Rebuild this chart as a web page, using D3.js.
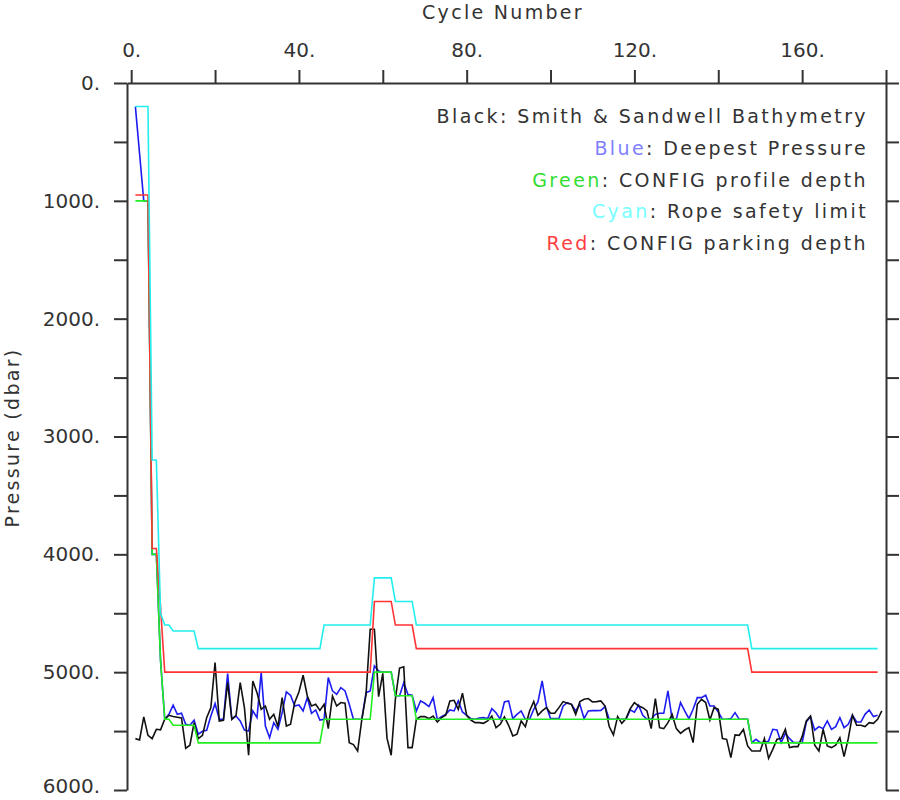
<!DOCTYPE html>
<html>
<head>
<meta charset="utf-8">
<script src="https://cdn.jsdelivr.net/npm/d3@7"></script>
<style>
  html, body { margin: 0; padding: 0; background: #ffffff; }
  svg { display: block; }
  text { font-family: "DejaVu Sans", sans-serif; fill: #333333; }
</style>
</head>
<body>
<svg id="chart" width="900" height="800"></svg>
<script>
// ---------------- DATA ----------------
// Black: Smith & Sandwell bathymetry, cycles 1..179 (dbar)
const bathymetry = [
  5564,5575,5380,5536,5564,5485,5490,5400,5366,5377,
  5383,5389,5646,5620,5428,5564,5536,5386,5300,4919,
  5414,5408,5088,5400,5366,5088,5300,5705,5075,5174,
  5315,5287,5400,5358,5462,5216,5457,5442,5258,5168,
  5026,5202,5287,5273,5324,5273,5479,5202,5287,5258,
  5264,5598,5615,5669,5400,5190,4636,4636,5208,5010,
  5560,5705,5230,4965,4955,5640,5640,5400,5377,5377,
  5394,5372,5423,5386,5366,5244,5239,5315,5179,5366,
  5406,5428,5428,5434,5414,5372,5471,5442,5380,5451,
  5541,5527,5414,5462,5329,5250,5366,5329,5301,5349,
  5349,5301,5250,5264,5273,5358,5250,5230,5224,5253,
  5250,5244,5287,5462,5533,5377,5434,5394,5310,5258,
  5287,5301,5329,5479,5224,5471,5479,5428,5358,5479,
  5519,5491,5471,5598,5273,5230,5258,5406,5301,5315,
  5564,5570,5725,5533,5536,5485,5626,5669,5669,5669,
  5564,5731,5655,5570,5564,5485,5640,5632,5632,5547,
  5414,5372,5620,5669,5485,5626,5640,5620,5556,5717,
  5564,5366,5451,5451,5462,5428,5434,5400,5329
];
// Blue: deepest pressure, cycles 1..178 (dbar)
const deepestPressure = [
  200,600,1000,1000,4000,4000,4900,5400,5358,5281,
  5358,5349,5442,5451,5408,5527,5502,5493,5372,5267,
  5400,5400,5012,5400,5372,5414,5491,5499,5329,5386,
  5004,5457,5556,5428,5485,5343,5168,5196,5287,5278,
  5329,5216,5349,5321,5406,5400,5046,5159,5188,5131,
  5159,5273,5400,5400,5400,5174,5159,4947,4990,5000,
  5000,5000,5200,5200,5090,5190,5196,5329,5244,5264,
  5292,5216,5400,5377,5358,5321,5329,5244,5338,5366,
  5394,5400,5389,5386,5394,5310,5344,5400,5253,5244,
  5394,5358,5329,5400,5400,5315,5253,5075,5287,5394,
  5394,5394,5287,5258,5273,5329,5273,5394,5329,5326,
  5326,5324,5292,5400,5400,5400,5400,5400,5320,5340,
  5281,5366,5400,5400,5358,5349,5349,5159,5400,5400,
  5258,5329,5394,5315,5216,5216,5196,5287,5287,5338,
  5400,5400,5394,5343,5400,5400,5400,5598,5570,5598,
  5598,5585,5485,5491,5598,5519,5564,5598,5598,5598,
  5423,5377,5491,5462,5479,5414,5485,5462,5386,5471,
  5442,5366,5423,5423,5358,5321,5377,5366
];
// Step series as [cycle, pressure] vertices
const profileDepth = [ // Green
  [1,1000],[4,1000],[5,4000],[6,4000],[7,4900],[8,5400],[9,5400],[10,5450],[15,5450],
  [16,5600],[45,5600],[46,5400],[57,5400],[58,5000],[62,5000],[63,5200],[67,5200],
  [68,5400],[147,5400],[148,5600],[178,5600]
];
const ropeSafety = [ // Cyan
  [1,200],[4,200],[5,3200],[6,3200],[7,4500],[8,4600],[9,4600],[10,4650],[15,4650],
  [16,4800],[45,4800],[46,4600],[57,4600],[58,4200],[62,4200],[63,4400],[67,4400],
  [68,4600],[147,4600],[148,4800],[178,4800]
];
const parkingDepth = [ // Red
  [1,950],[4,950],[5,3950],[6,3950],[7,4450],[8,5000],[57,5000],[58,4400],[62,4400],
  [63,4600],[67,4600],[68,4800],[147,4800],[148,5000],[178,5000]
];

const xTickValues = [0,20,40,60,80,100,120,140,160,180];
const xTickLabels = ["0.","","40.","","80.","","120.","","160.",""];
const yTickValues = [0,500,1000,1500,2000,2500,3000,3500,4000,4500,5000,5500,6000];
const yTickLabels = ["0.","","1000.","","2000.","","3000.","","4000.","","5000.","","6000."];

const legendItems = [
  {word: "Black", rest: ": Smith & Sandwell Bathymetry", color: "#333333"},
  {word: "Blue", rest: ": Deepest Pressure", color: "#8080ff"},
  {word: "Green", rest: ": CONFIG profile depth", color: "#33dd33"},
  {word: "Cyan", rest: ": Rope safety limit", color: "#77ffff"},
  {word: "Red", rest: ": CONFIG parking depth", color: "#ff4040"}
];

// ---------------- CHART ----------------
const svg = d3.select("#chart");
const plotLeft = 127, plotRight = 886, plotTop = 83, plotBottom = 790;
const x = d3.scaleLinear().domain([-1, 180]).range([plotLeft, plotRight]);
const y = d3.scaleLinear().domain([0, 6000]).range([plotTop, plotBottom]);

const axisColor = "#333333";

// data lines
const line = d3.line().x(d => x(d[0])).y(d => y(d[1]));
const toPts = arr => arr.map((v, i) => [i + 1, v]);

const g = svg.append("g");
g.append("path").datum(toPts(deepestPressure)).attr("d", line)
  .attr("fill", "none").attr("stroke", "#1c1cf0").attr("stroke-width", 1.6);
g.append("path").datum(toPts(bathymetry)).attr("d", line)
  .attr("fill", "none").attr("stroke", "#111111").attr("stroke-width", 1.6);
g.append("path").datum(profileDepth).attr("d", line)
  .attr("fill", "none").attr("stroke", "#22ee22").attr("stroke-width", 1.6);
g.append("path").datum(parkingDepth).attr("d", line)
  .attr("fill", "none").attr("stroke", "#ff3333").attr("stroke-width", 1.6);
g.append("path").datum(ropeSafety).attr("d", line)
  .attr("fill", "none").attr("stroke", "#22eeee").attr("stroke-width", 1.6);

// axes
function styleAxis(sel) {
  sel.selectAll("path.domain").attr("stroke", axisColor).attr("stroke-width", 2);
  sel.selectAll(".tick line").attr("stroke", axisColor).attr("stroke-width", 2);
  sel.selectAll(".tick text").attr("fill", "#333333")
    .style("font-family", "'DejaVu Sans', sans-serif").style("font-size", "20px");
}

const xAxis = d3.axisTop(x).tickValues(xTickValues)
  .tickFormat((d, i) => xTickLabels[i]).tickSize(13).tickSizeOuter(0).tickPadding(13);
svg.append("g").attr("transform", `translate(0,${plotTop})`).call(xAxis).call(styleAxis);

const yAxis = d3.axisLeft(y).tickValues(yTickValues)
  .tickFormat((d, i) => yTickLabels[i]).tickSize(13).tickSizeOuter(0).tickPadding(14);
const yAxisG = svg.append("g").attr("transform", `translate(${plotLeft},0)`).call(yAxis).call(styleAxis);
yAxisG.selectAll(".tick text").filter(d => d === 6000).attr("dy", "0.12em");

const yAxisR = d3.axisRight(y).tickValues(yTickValues)
  .tickFormat("").tickSize(13).tickSizeOuter(0);
svg.append("g").attr("transform", `translate(${plotRight},0)`).call(yAxisR).call(styleAxis);

// titles
const wide = "2.3px";
svg.append("text").attr("x", 503).attr("y", 19).attr("text-anchor", "middle")
  .style("font-size", "19px").style("letter-spacing", wide).text("Cycle Number");
svg.append("text").attr("transform", `translate(19,${(plotTop + plotBottom) / 2 + 1}) rotate(-90)`)
  .attr("text-anchor", "middle").style("font-size", "19px").style("letter-spacing", wide)
  .text("Pressure (dbar)");

// legend
const leg = svg.append("g");
legendItems.forEach((it, i) => {
  const t = leg.append("text").attr("x", 868).attr("y", 123 + i * 31.8)
    .attr("text-anchor", "end").style("font-size", "19px").style("letter-spacing", "2.4px");
  t.append("tspan").attr("fill", it.color).text(it.word);
  t.append("tspan").attr("fill", "#333333").text(it.rest);
});
</script>
</body>
</html>
